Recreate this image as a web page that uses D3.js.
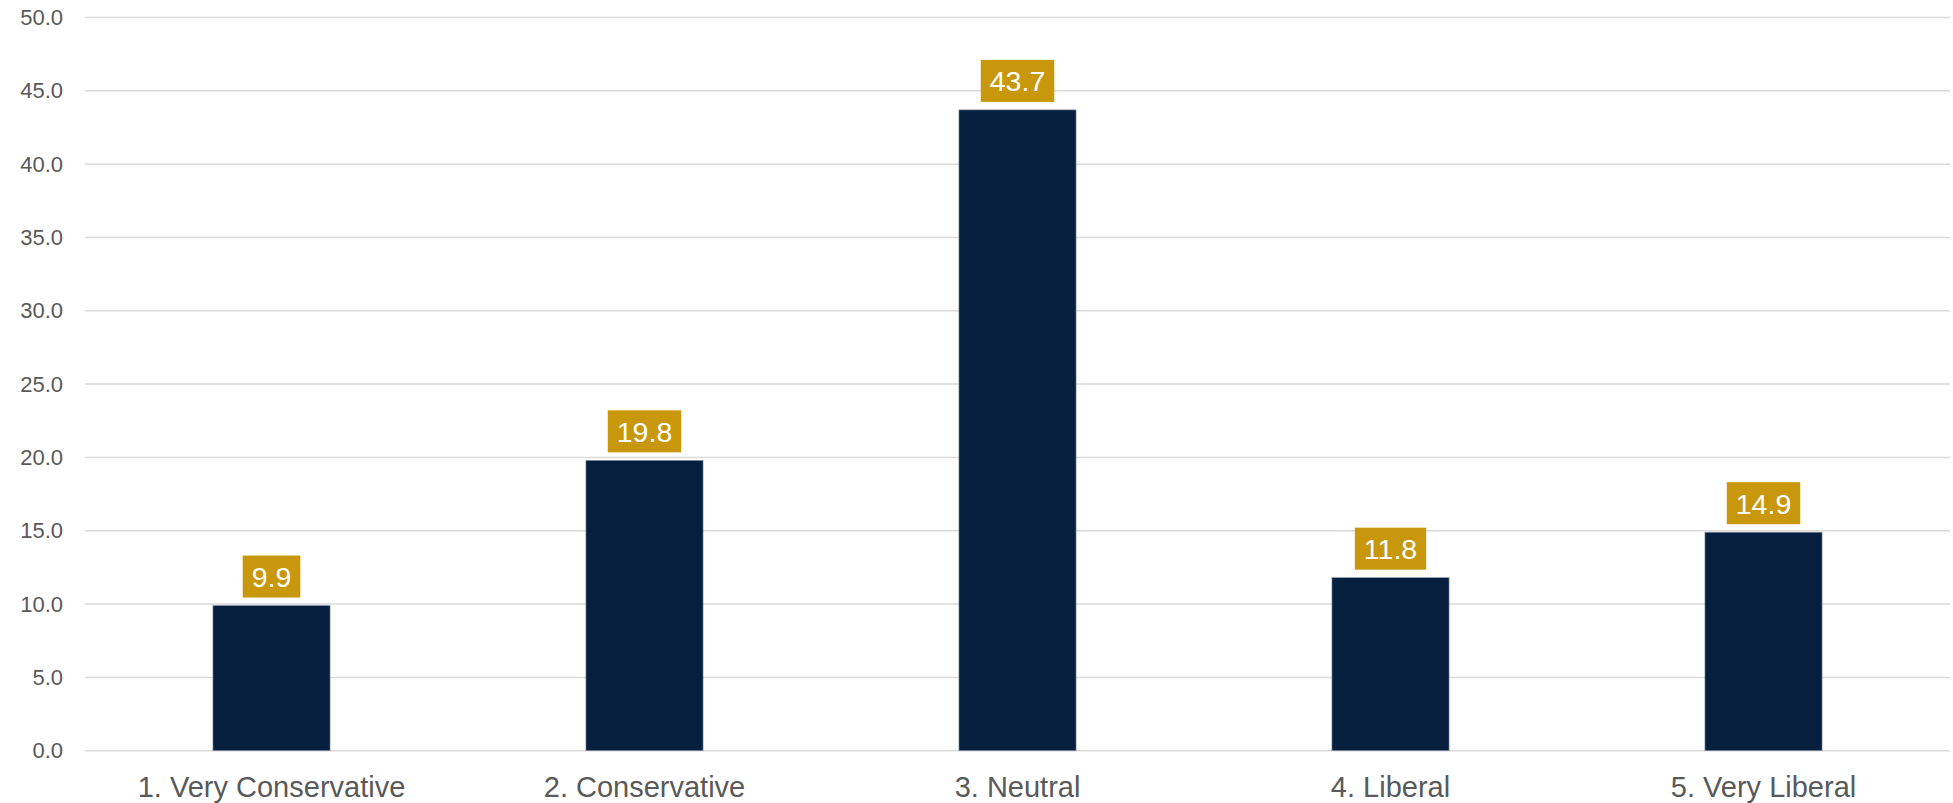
<!DOCTYPE html>
<html><head><meta charset="utf-8">
<script src="https://cdn.jsdelivr.net/npm/d3@7"></script>
<style>body{margin:0;background:#fff}svg{display:block}</style>
</head><body>
<svg id="chart" width="1953" height="803"></svg>
<script>
const categories = ["1. Very Conservative","2. Conservative","3. Neutral","4. Liberal","5. Very Liberal"];
const values = [9.9, 19.8, 43.7, 11.8, 14.9];
const yTicks = [0,5,10,15,20,25,30,35,40,45,50];

(function(){
const svg = d3.select("#chart");
const mLeft = 85, mRight = 1950, mTop = 17.5, mBottom = 750.7;
const x = d3.scaleBand().domain(categories).range([mLeft, mRight]).paddingInner(0.686).paddingOuter(0.343);
const y = d3.scaleLinear().domain([0,50]).range([mBottom, mTop]);
const font = "'Liberation Sans', Arial, sans-serif";

// gridlines
svg.append("g").selectAll("line").data(yTicks).join("line")
  .attr("x1", mLeft).attr("x2", mRight)
  .attr("y1", d => y(d)).attr("y2", d => y(d))
  .attr("stroke", "#d9d9d9").attr("stroke-width", 1.5);

// y axis labels
const yAxis = d3.axisLeft(y).tickValues(yTicks).tickFormat(d3.format(".1f")).tickSize(0).tickPadding(22);
const ya = svg.append("g").attr("transform", `translate(${mLeft},0)`).call(yAxis);
ya.select(".domain").remove();
ya.selectAll("text").attr("font-family", font).attr("font-size", 22).attr("fill", "#595959");

// x axis labels
const xAxis = d3.axisBottom(x).tickSize(0).tickPadding(0);
const xa = svg.append("g").attr("transform", `translate(0,${mBottom})`).call(xAxis);
xa.select(".domain").remove();
xa.selectAll("text").attr("font-family", font).attr("font-size", 29).attr("fill", "#595959")
  .attr("dy", null).attr("y", 46);

// bars
svg.append("g").selectAll("rect").data(values).join("rect")
  .attr("x", (d,i) => x(categories[i]))
  .attr("width", x.bandwidth())
  .attr("y", d => y(d))
  .attr("height", d => y(0) - y(d))
  .attr("fill", "#071f3f")
  .attr("stroke", "#8a96a8").attr("stroke-width", 0.6);

// value labels
const lg = svg.append("g").selectAll("g").data(values).join("g")
  .attr("transform", (d,i) => `translate(${x(categories[i]) + x.bandwidth()/2},${y(d) - 8})`);
lg.each(function(d){
  const g = d3.select(this);
  const t = g.append("text").text(d3.format(".1f")(d))
    .attr("font-family", font).attr("font-size", 28.5).attr("fill", "#fff")
    .attr("text-anchor", "middle").attr("y", -10.5);
  const w = t.node().getComputedTextLength();
  g.insert("rect", "text").attr("x", -w/2 - 9).attr("width", w + 18)
    .attr("y", -42).attr("height", 42).attr("fill", "#c8970c");
});
})();
</script>
</body></html>
